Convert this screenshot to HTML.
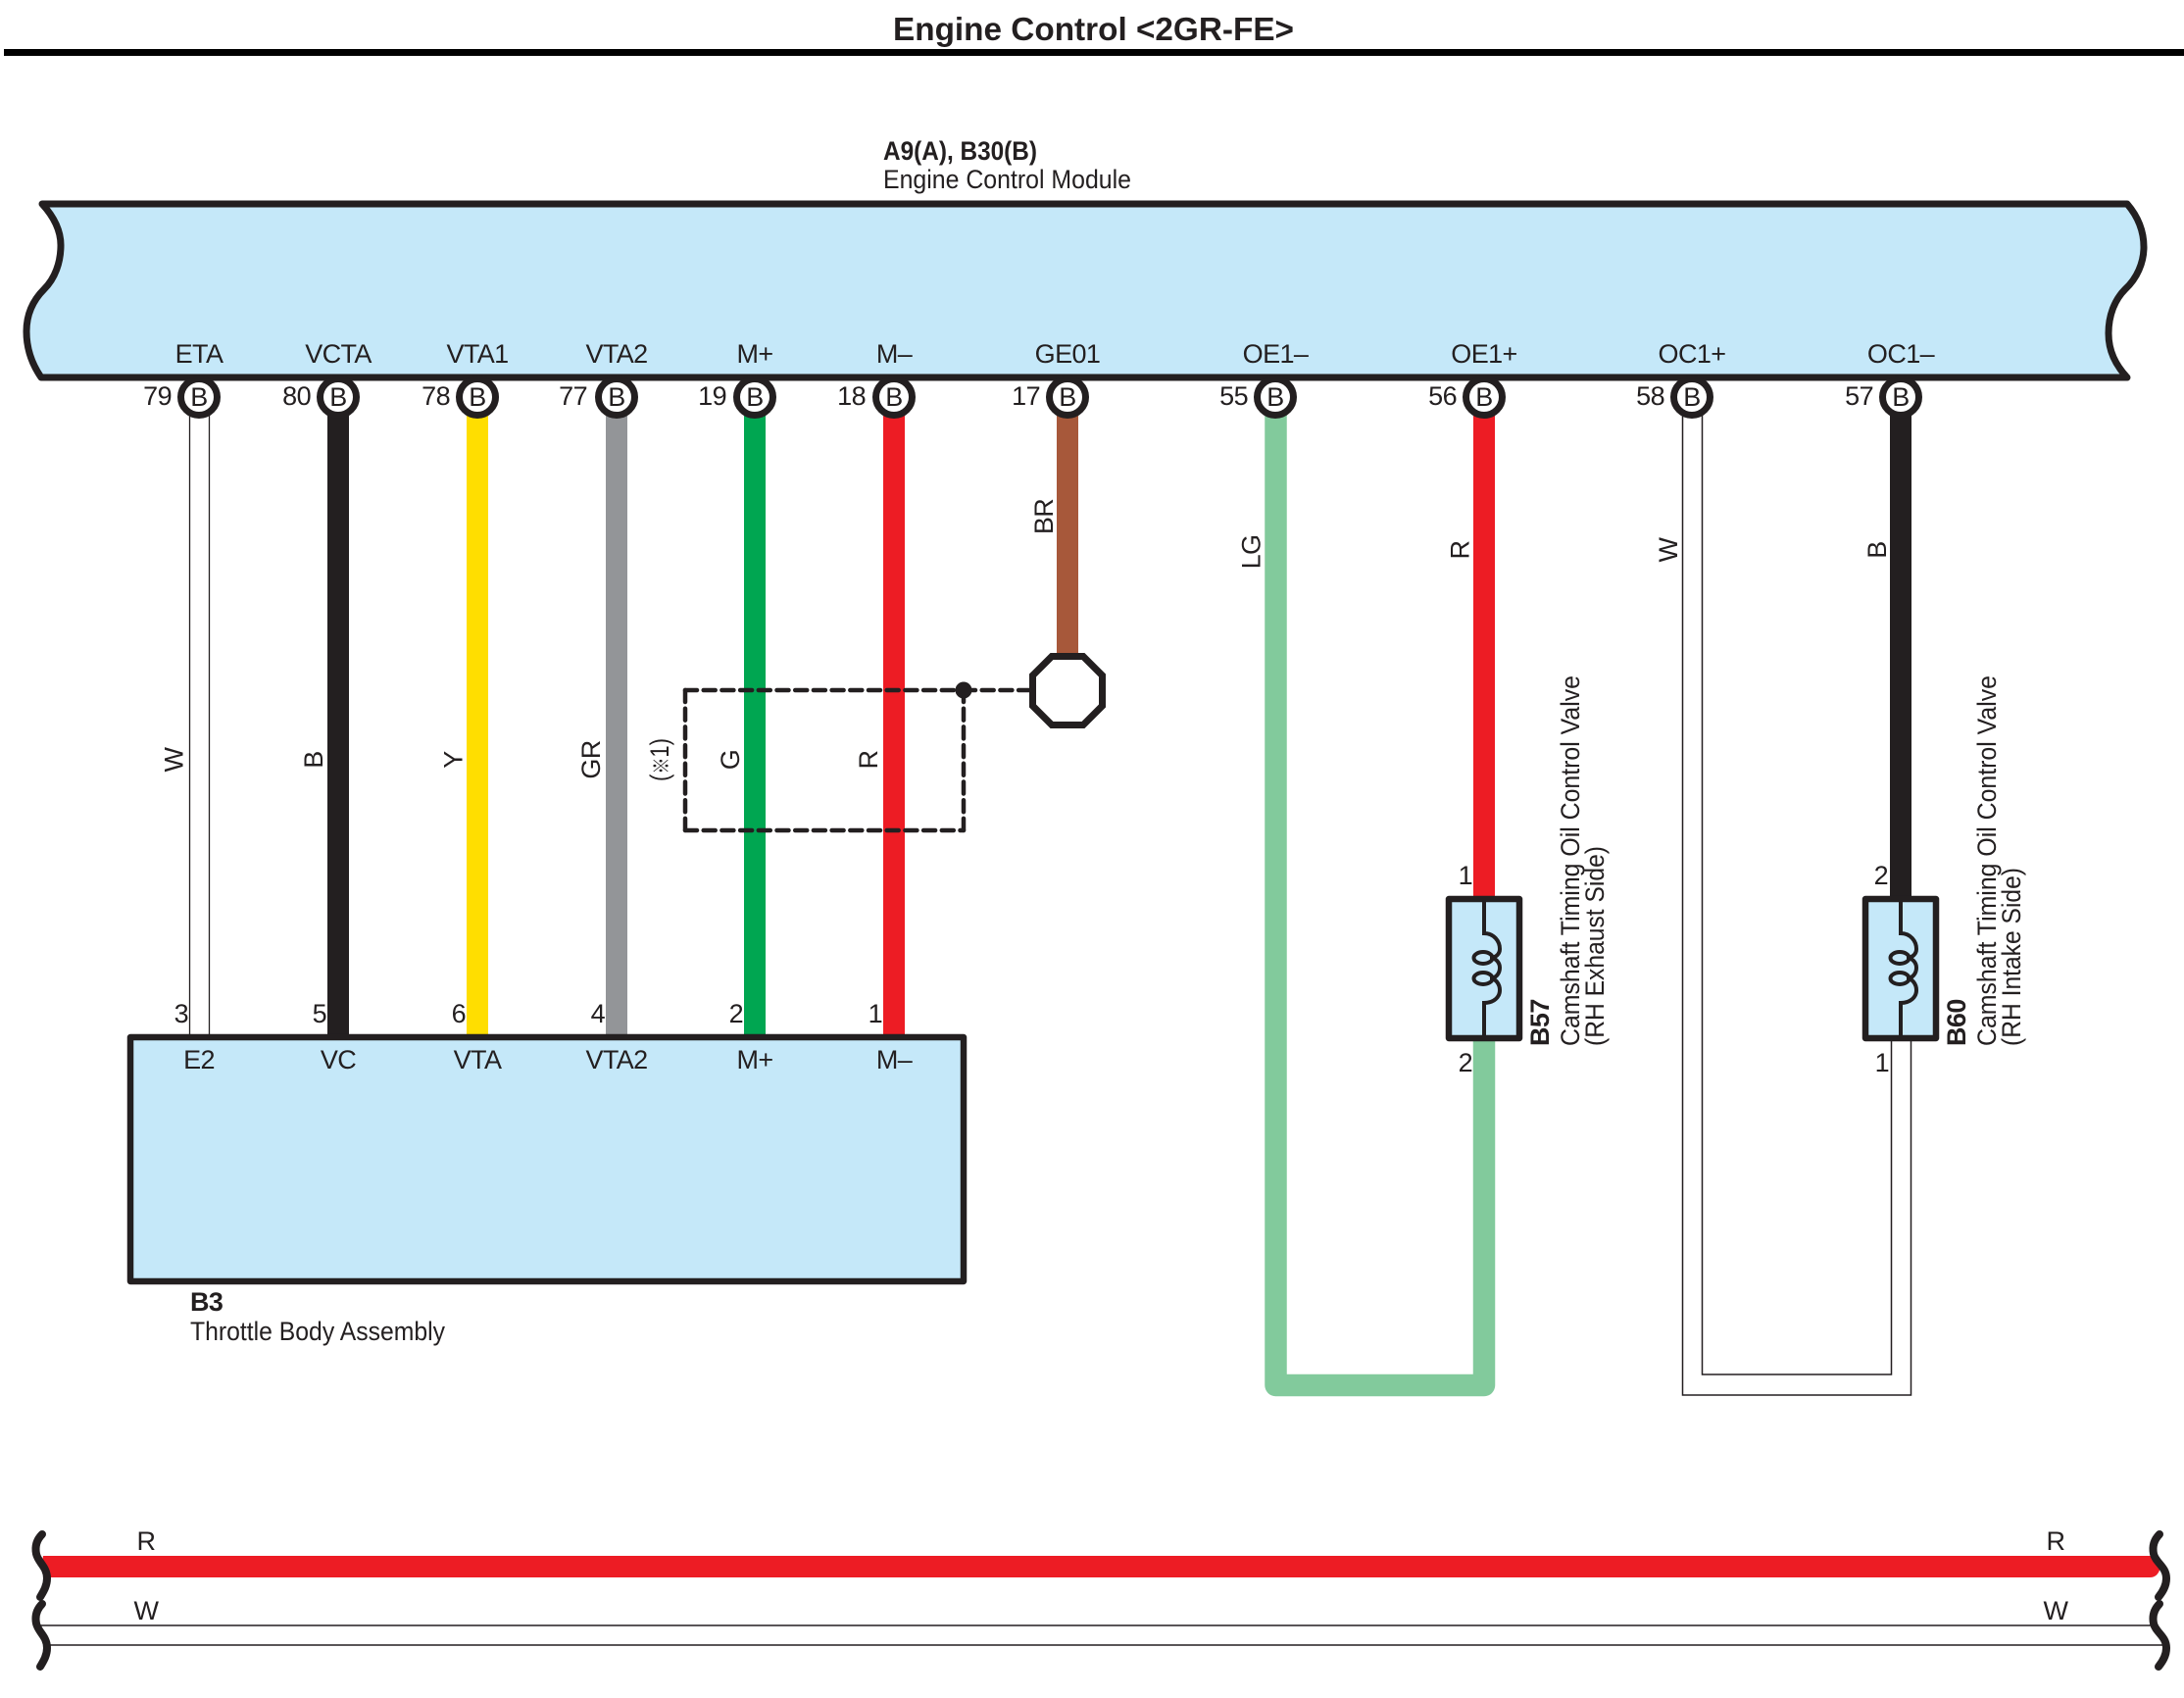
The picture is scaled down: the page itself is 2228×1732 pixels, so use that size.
<!DOCTYPE html>
<html>
<head>
<meta charset="utf-8">
<style>
html,body{margin:0;padding:0;background:#fff;width:2228px;height:1732px;overflow:hidden}
svg{display:block}
text{font-family:"Liberation Sans","Noto Sans CJK JP",sans-serif;fill:#231f20;font-size:27px;letter-spacing:-0.6px}
text[textLength]{letter-spacing:0}
.b{font-weight:bold}
.m{text-anchor:middle}
.e{text-anchor:end}
</style>
</head>
<body>
<svg width="2228" height="1732" viewBox="0 0 2228 1732" xmlns="http://www.w3.org/2000/svg">
<rect width="2228" height="1732" fill="#fff"/>

<!-- Header -->
<text class="b" x="911" y="41" style="font-size:33px" textLength="409" lengthAdjust="spacingAndGlyphs">Engine Control &lt;2GR-FE&gt;</text>
<rect x="4" y="50" width="2224" height="7" fill="#000"/>
<text class="b" x="901" y="163" textLength="157" lengthAdjust="spacingAndGlyphs">A9(A), B30(B)</text>
<text x="901" y="192" textLength="253" lengthAdjust="spacingAndGlyphs">Engine Control Module</text>

<!-- ECM body -->
<path d="M43,208 H2170 C2182,222 2187,236 2187,252 C2187,268 2180,284 2168,295 C2157,306 2151,322 2151,340 C2151,358 2158,372 2170,385 H42 C33,372 27,356 27,338 C27,320 34,306 45,295 C56,284 62,268 62,250 C62,234 54,220 43,208 Z" fill="#c5e8f9" stroke="#231f20" stroke-width="7" stroke-linejoin="round"/>

<!-- Wires -->
<g fill="none">
  <rect x="193.5" y="404" width="20" height="654" fill="#fff" stroke="#231f20" stroke-width="1.3"/>
  <line x1="345" y1="404" x2="345" y2="1058" stroke="#231f20" stroke-width="22"/>
  <line x1="487" y1="404" x2="487" y2="1058" stroke="#ffde00" stroke-width="22"/>
  <line x1="629" y1="404" x2="629" y2="1058" stroke="#939598" stroke-width="22"/>
  <line x1="770" y1="404" x2="770" y2="1058" stroke="#00a651" stroke-width="22"/>
  <line x1="912" y1="404" x2="912" y2="1058" stroke="#ed1c24" stroke-width="22"/>
  <line x1="1089" y1="404" x2="1089" y2="670" stroke="#a7583a" stroke-width="22"/>
  <path d="M1301.5,404 V1413 H1514 V1058" stroke="#82ca9c" stroke-width="22.5" stroke-linejoin="round"/>
  <line x1="1514" y1="404" x2="1514" y2="920" stroke="#ed1c24" stroke-width="22"/>
  <path d="M1716.5,404 V1423 H1949.5 V1058" stroke="#231f20" stroke-width="1.5"/>
  <path d="M1736.5,404 V1402 H1929.5 V1058" stroke="#231f20" stroke-width="1.5"/>
  <line x1="1939" y1="404" x2="1939" y2="920" stroke="#231f20" stroke-width="22"/>
</g>

<!-- Connector circles -->
<g fill="#fff" stroke="#231f20" stroke-width="7">
  <circle cx="203" cy="405" r="18.5"/>
  <circle cx="345" cy="405" r="18.5"/>
  <circle cx="487" cy="405" r="18.5"/>
  <circle cx="629" cy="405" r="18.5"/>
  <circle cx="770" cy="405" r="18.5"/>
  <circle cx="912" cy="405" r="18.5"/>
  <circle cx="1089" cy="405" r="18.5"/>
  <circle cx="1301" cy="405" r="18.5"/>
  <circle cx="1514" cy="405" r="18.5"/>
  <circle cx="1726" cy="405" r="18.5"/>
  <circle cx="1939" cy="405" r="18.5"/>
</g>
<text class="m" x="203" y="414">B</text>
<text class="m" x="345" y="414">B</text>
<text class="m" x="487" y="414">B</text>
<text class="m" x="629" y="414">B</text>
<text class="m" x="770" y="414">B</text>
<text class="m" x="912" y="414">B</text>
<text class="m" x="1089" y="414">B</text>
<text class="m" x="1301" y="414">B</text>
<text class="m" x="1514" y="414">B</text>
<text class="m" x="1726" y="414">B</text>
<text class="m" x="1939" y="414">B</text>

<!-- ECM terminal names -->
<text class="m" x="203" y="370">ETA</text>
<text class="m" x="345" y="370">VCTA</text>
<text class="m" x="487" y="370">VTA1</text>
<text class="m" x="629" y="370">VTA2</text>
<text class="m" x="770" y="370">M+</text>
<text class="m" x="912" y="370">M–</text>
<text class="m" x="1089" y="370">GE01</text>
<text class="m" x="1301" y="370">OE1–</text>
<text class="m" x="1514" y="370">OE1+</text>
<text class="m" x="1726" y="370">OC1+</text>
<text class="m" x="1939" y="370">OC1–</text>

<!-- pin numbers -->
<text class="e" x="175" y="413">79</text>
<text class="e" x="317" y="413">80</text>
<text class="e" x="459" y="413">78</text>
<text class="e" x="599" y="413">77</text>
<text class="e" x="741" y="413">19</text>
<text class="e" x="883" y="413">18</text>
<text class="e" x="1061" y="413">17</text>
<text class="e" x="1273" y="413">55</text>
<text class="e" x="1486" y="413">56</text>
<text class="e" x="1698" y="413">58</text>
<text class="e" x="1911" y="413">57</text>

<!-- Throttle body -->
<rect x="133" y="1058" width="850" height="249" fill="#c5e8f9" stroke="#231f20" stroke-width="6.5" stroke-linejoin="round"/>
<text class="m" x="203" y="1090">E2</text>
<text class="m" x="345" y="1090">VC</text>
<text class="m" x="487" y="1090">VTA</text>
<text class="m" x="629" y="1090">VTA2</text>
<text class="m" x="770" y="1090">M+</text>
<text class="m" x="912" y="1090">M–</text>
<text class="e" x="192" y="1043">3</text>
<text class="e" x="333" y="1043">5</text>
<text class="e" x="475" y="1043">6</text>
<text class="e" x="617" y="1043">4</text>
<text class="e" x="758" y="1043">2</text>
<text class="e" x="900" y="1043">1</text>
<text class="b" x="194" y="1337">B3</text>
<text x="194" y="1367" textLength="260" lengthAdjust="spacingAndGlyphs">Throttle Body Assembly</text>

<!-- Rotated wire labels -->
<text class="m" transform="translate(186.5,775) rotate(-90)">W</text>
<text class="m" transform="translate(329,775) rotate(-90)">B</text>
<text class="m" transform="translate(471.5,775) rotate(-90)">Y</text>
<text class="m" transform="translate(612,775) rotate(-90)">GR</text>
<text class="m" transform="translate(754,775) rotate(-90)">G</text>
<text class="m" transform="translate(895,775) rotate(-90)">R</text>
<text class="m" transform="translate(682,775) rotate(-90)" textLength="44" lengthAdjust="spacingAndGlyphs">(<tspan style="font-size:21px">※</tspan>1)</text>
<text class="m" transform="translate(1074,527) rotate(-90)">BR</text>
<text class="m" transform="translate(1285.5,563) rotate(-90)">LG</text>
<text class="m" transform="translate(1498.5,561) rotate(-90)">R</text>
<text class="m" transform="translate(1711,561) rotate(-90)">W</text>
<text class="m" transform="translate(1924,561) rotate(-90)">B</text>

<!-- Shielding dashes -->
<g fill="none" stroke="#231f20" stroke-width="4.5" stroke-linecap="round" stroke-dasharray="12 6.7">
  <path d="M699,704 H983"/>
  <path d="M699,704 V847"/>
  <path d="M699,847 H983"/>
  <path d="M983,704 V847"/>
  <path d="M983,704 H1050"/>
</g>
<circle cx="983" cy="704" r="8.5" fill="#231f20"/>
<polygon points="1073,669.5 1105,669.5 1124.5,689 1124.5,720 1105,739.5 1073,739.5 1053.5,720 1053.5,689" fill="#fff" stroke="#231f20" stroke-width="7"/>

<!-- B57 valve -->
<g>
  <rect x="1478" y="917" width="72" height="142" fill="#c5e8f9" stroke="#231f20" stroke-width="6.5" stroke-linejoin="round"/>
  <g fill="none" stroke="#231f20" stroke-width="4">
    <path d="M1514,917 V952 C1524,952 1530,960 1530,968 C1530,973 1526,977 1520,977 C1526,977 1530,982 1530,987 C1530,993 1526,998 1520,998 C1526,998 1530,1004 1530,1010 C1530,1017 1524,1023 1514,1023 V1059"/>
    <ellipse cx="1513" cy="977" rx="9.5" ry="6"/>
    <ellipse cx="1513" cy="998" rx="9.5" ry="6"/>
  </g>
</g>
<!-- B60 valve -->
<g transform="translate(425,0)">
  <rect x="1478" y="917" width="72" height="142" fill="#c5e8f9" stroke="#231f20" stroke-width="6.5" stroke-linejoin="round"/>
  <g fill="none" stroke="#231f20" stroke-width="4">
    <path d="M1514,917 V952 C1524,952 1530,960 1530,968 C1530,973 1526,977 1520,977 C1526,977 1530,982 1530,987 C1530,993 1526,998 1520,998 C1526,998 1530,1004 1530,1010 C1530,1017 1524,1023 1514,1023 V1059"/>
    <ellipse cx="1513" cy="977" rx="9.5" ry="6"/>
    <ellipse cx="1513" cy="998" rx="9.5" ry="6"/>
  </g>
</g>
<text class="e" x="1502" y="902">1</text>
<text class="e" x="1502" y="1093">2</text>
<text class="e" x="1926" y="902">2</text>
<text class="e" x="1927" y="1093">1</text>

<text class="b" transform="translate(1580,1067) rotate(-90)">B57</text>
<text transform="translate(1611,1067) rotate(-90)" textLength="378" lengthAdjust="spacingAndGlyphs">Camshaft Timing Oil Control Valve</text>
<text transform="translate(1636,1067) rotate(-90)" textLength="204" lengthAdjust="spacingAndGlyphs">(RH Exhaust Side)</text>
<text class="b" transform="translate(2005,1067) rotate(-90)">B60</text>
<text transform="translate(2036,1067) rotate(-90)" textLength="378" lengthAdjust="spacingAndGlyphs">Camshaft Timing Oil Control Valve</text>
<text transform="translate(2061,1067) rotate(-90)" textLength="182" lengthAdjust="spacingAndGlyphs">(RH Intake Side)</text>

<!-- Bottom power lines -->
<path d="M44,1587 H2193 Q2202,1587 2204,1598 Q2202,1609 2193,1609 H51 L43,1594 Z" fill="#ed1c24"/>
<line x1="40" y1="1658" x2="2196" y2="1658" stroke="#231f20" stroke-width="1.5"/>
<line x1="48" y1="1678" x2="2208" y2="1678" stroke="#231f20" stroke-width="1.5"/>
<g fill="none" stroke="#231f20" stroke-width="8" stroke-linecap="round">
  <path d="M43,1565 C36,1572 36,1580 37,1585 C39,1594 48,1598 48,1610 C48,1618 44,1624 41,1629"/>
  <path d="M43,1636 C36,1643 36,1651 37,1656 C39,1665 48,1669 48,1681 C48,1689 44,1695 41,1700"/>
  <path d="M2203,1565 C2196,1572 2196,1580 2197,1585 C2199,1594 2210,1598 2210,1610 C2210,1618 2206,1624 2202,1629"/>
  <path d="M2203,1636 C2196,1643 2196,1651 2197,1656 C2199,1665 2210,1669 2210,1681 C2210,1689 2206,1695 2202,1700"/>
</g>
<text class="m" x="149" y="1581">R</text>
<text class="m" x="149" y="1652">W</text>
<text class="m" x="2097" y="1581">R</text>
<text class="m" x="2097" y="1652">W</text>
</svg>
</body>
</html>
